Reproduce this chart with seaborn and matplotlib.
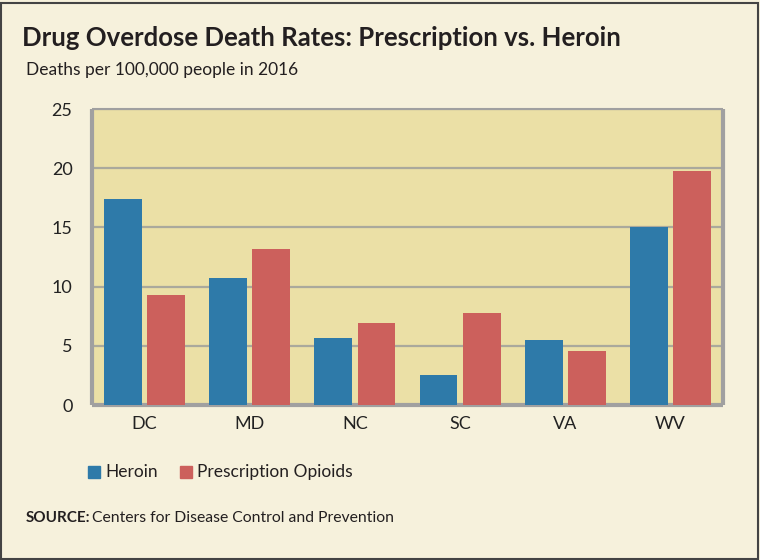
import pandas as pd
import numpy as np
import matplotlib.pyplot as plt
import seaborn as sns
from matplotlib.patches import Rectangle

states = ["DC", "MD", "NC", "SC", "VA", "WV"]
heroin = [17.4, 10.7, 5.7, 2.5, 5.5, 15.0]
opioids = [9.3, 13.2, 6.9, 7.8, 4.6, 19.8]
series = ["Heroin", "Prescription Opioids"]
colors = ["#2e7aa9", "#cc605c"]

df = pd.DataFrame({"state": states * 2,
                   "rate": heroin + opioids,
                   "kind": [series[0]] * len(states) + [series[1]] * len(states)})

sns.set_style("white")
plt.rcParams["font.family"] = ["Lato", "DejaVu Sans"]

fig = plt.figure(figsize=(7.6, 5.6), dpi=100, facecolor="#f6f1dc")
ax = fig.add_axes([92 / 760, 1 - 405 / 560, 631 / 760, 296 / 560])
ax.set_facecolor("#ebe0a6")

sns.barplot(data=df, x="state", y="rate", hue="kind", palette=colors,
            width=0.82, gap=0.12, saturation=1, linewidth=0, ax=ax,
            legend=False, zorder=3)

ax.set_ylim(0, 25)
ax.set_yticks([0, 5, 10, 15, 20, 25])
ax.yaxis.grid(True, color="#aaa99c", linewidth=1.6, zorder=0)
ax.set_axisbelow(True)
ax.set_xlabel("")
ax.set_ylabel("")
ax.tick_params(axis="both", length=0, labelsize=13, colors="#222222")
ax.tick_params(axis="y", pad=14)
ax.tick_params(axis="x", pad=8)
for s in ax.spines.values():
    s.set_color("#a0a0a0")
    s.set_linewidth(1.5)
    s.set_capstyle("butt")
ax.spines["left"].set_linewidth(3)
ax.spines["bottom"].set_linewidth(3)
ax.spines["right"].set_linewidth(3)

fig.text(22 / 760, 1 - 38 / 560, "Drug Overdose Death Rates: Prescription vs. Heroin",
         fontsize=18.5, fontweight="bold", color="#231f20", va="center")
fig.text(26 / 760, 1 - 70 / 560, "Deaths per 100,000 people in 2016",
         fontsize=12.5, color="#231f20", va="center")

# legend
lx = [88, 180]
for i, name in enumerate(series):
    fig.patches.append(Rectangle(((lx[i]) / 760, 1 - 478 / 560), 12 / 760, 12 / 560,
                                 transform=fig.transFigure, color=colors[i]))
    fig.text((lx[i] + 17) / 760, 1 - 472 / 560, name, fontsize=12.5,
             color="#231f20", va="center")

fig.text(26 / 760, 1 - 518 / 560, "SOURCE:", fontsize=11, fontweight="bold",
         color="#231f20", va="center")
fig.text(92 / 760, 1 - 518 / 560, "Centers for Disease Control and Prevention",
         fontsize=11.3, color="#231f20", va="center")

fig.patches.append(Rectangle((1 / 760, 1 / 560), 757 / 760, 556 / 560,
                             transform=fig.transFigure, fill=False,
                             edgecolor="#444444", linewidth=1.5))

fig.savefig("out.png", dpi=100, facecolor=fig.get_facecolor())
